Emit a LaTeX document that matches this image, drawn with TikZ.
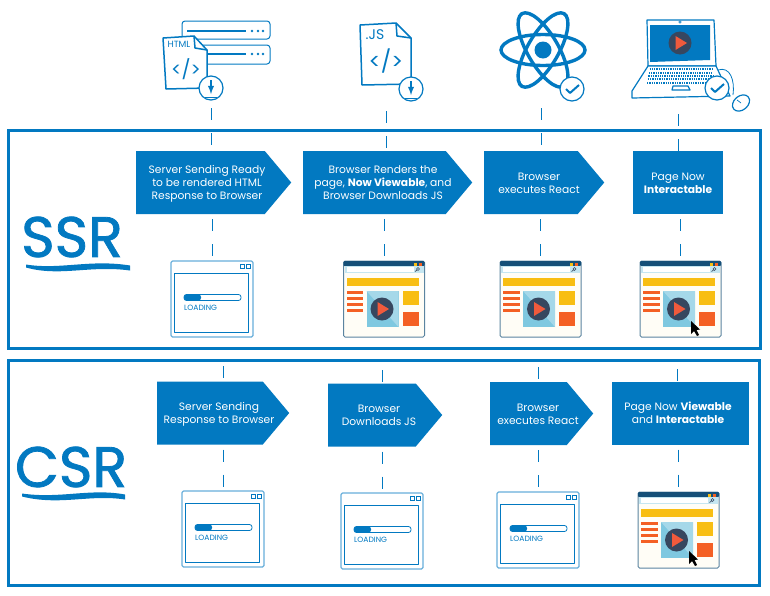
\documentclass[tikz,border=0pt]{standalone}
\usepackage{fontspec}
\setmainfont{Poppins}
\usetikzlibrary{positioning}
\usetikzlibrary{calc}
\usetikzlibrary{shapes,shapes.symbols,shapes.geometric}
\definecolor{mainblue}{HTML}{0279C1}
\definecolor{darkslate}{HTML}{37475F}
\definecolor{headblue}{HTML}{154F78}
\definecolor{redplay}{HTML}{F15A3C}
\definecolor{barorange}{HTML}{F46024}
\definecolor{baryellow}{HTML}{F8BE12}
\definecolor{panelblue}{HTML}{7FC8E0}
\definecolor{cream}{HTML}{FFFDF6}
% text of a step, moved sideways inside its box
\newcommand{\steptext}[2]{\makebox[0pt]{\hspace*{#1pt}\raisebox{-4.5pt}[0pt][0pt]{\begin{tabular}{@{}c@{}}#2\end{tabular}}}}
\tikzstyle{step arrow} = [signal, signal to=east, signal pointer angle=100, fill=mainblue, text=white, inner sep=0pt, minimum height=63pt, font=\fontsize{10.7}{13}\selectfont]
\tikzstyle{step rect} = [rectangle, fill=mainblue, text=white, inner sep=0pt, minimum height=63pt, font=\fontsize{10.7}{13}\selectfont]
\tikzstyle{frame} = [draw=mainblue, line width=3pt]
\tikzstyle{tick} = [draw=mainblue, line width=1pt, dash pattern=on 12pt off 13pt]
\tikzstyle{title} = [text=mainblue, inner sep=0pt, font=\fontsize{57}{57}\selectfont\addfontfeature{FakeBold=1.4}]
\tikzstyle{ink} = [draw=mainblue, line width=1.2pt, line join=round]
\tikzstyle{inktext} = [text=mainblue, inner sep=0pt]
\tikzset{
  badge/.pic={
    \draw[ink, fill=white] (0,0) circle (12);
    \coordinate (-foot) at (0,12);
  },
  playdisc/.pic={
    \fill[darkslate] (0,0) circle (11.5);
    \fill[redplay] (-4.5,-7) -- (7,0) -- (-4.5,7) -- cycle;
  },
  loadwin/.pic={
    % window drawn from its top left corner
    \draw[ink, rounded corners=1.5pt, opacity=.6] (0,0) rectangle (82,76);
    \draw[ink, line width=1pt] (3.5,12) rectangle (77,71);
    \draw[mainblue, line width=.7pt] (69,3) rectangle (73,7) (75,3) rectangle (79,7);
    \draw[mainblue, line width=.8pt, rounded corners=2.5pt] (13,33.5) rectangle (70,39.5);
    \fill[mainblue, rounded corners=2.5pt] (13,33.5) rectangle (30,39.5);
    \node[inktext, anchor=west, font=\fontsize{7.6}{8}\selectfont] (-text) at (13,46.5) {LOADING};
    \coordinate (-top) at (41,0);
  },
  pagewin/.pic={
    \draw[draw=headblue!70, line width=1pt, fill=cream, rounded corners=1.5pt] (0,0) rectangle (81,76);
    \fill[headblue, rounded corners=1pt] (0,0) rectangle (81,5);
    \fill[baryellow] (70,2) rectangle (73,4.5);
    \fill[barorange] (75,2) rectangle (78,4.5);
    \fill[panelblue!45] (1,5) rectangle (80,12);
    \fill[white] (3,6) rectangle (70,11);
    \draw[darkslate, line width=.6pt] (74.5,8) circle (1.5) (73.3,9.2) -- (71.5,10.5);
    \fill[baryellow] (3,17) rectangle (75,25);
    \foreach \ybar in {30,36,42,48}
      \fill[barorange] (3,\ybar) rectangle (19.5,\ybar+2.5);
    \fill[panelblue] (23,30) rectangle (55,66);
    \fill[panelblue!70!white] (23,30) -- (55,30) -- (55,66) -- cycle;
    \fill[baryellow] (59,30) rectangle (75,44);
    \fill[barorange] (59,51) rectangle (75,65);
    \pic at (38.5,48) {playdisc};
    \coordinate (-top) at (40.5,0);
  },
  mousecursor/.pic={
    \fill[black] (0,0) -- (0,13) -- (3,10) -- (6,15) -- (8,14) -- (5.5,9) -- (9,8.5) -- cycle;
  },
}

\begin{document}
\begin{tikzpicture}[x=1pt, y=-1pt]
\useasboundingbox (0,0) rectangle (770,595);

% top icons
\coordinate (iconhtml) at (211,108);
\coordinate (iconjs) at (386,111);
\coordinate (iconreact) at (541,108);
\coordinate (iconlaptop) at (678,114);

% server and HTML file
\draw[ink, line width=1pt, rounded corners=3pt] (182,21) rectangle (270,39);
\draw[ink, line width=1pt, rounded corners=3pt] (182,45) rectangle (270,64);
\draw[ink] (187,31) -- (246,31) (195,54) -- (246,54);
\foreach \ydot in {31,54}
  \fill[mainblue] (252,\ydot) circle (1.4) (258,\ydot) circle (1.4) (263,\ydot) circle (1.4);
\draw[ink, line width=1.5pt, fill=white] (163,38) -- (194,36) -- (207,50) -- (207,88) -- (166,89) -- cycle;
\draw[ink, line width=1.5pt] (194,36) -- (195,48) -- (207,50);
\node[inktext, font=\fontsize{9}{9}\selectfont] (htmllabel) at (179,44.5) {HTML};
\node[inktext, font=\fontsize{19}{19}\selectfont] (htmlcode) at (186,69) {</>};
\pic (htmlbadge) at (211,88) {badge};
\draw[mainblue, line width=1.8pt, ->, >=latex] (211,80) -- (211,94);
\draw[mainblue, line width=.6pt] (205,97) -- (217,97);

% JS file
\draw[ink, line width=1.5pt, fill=white] (360,25) -- (396,23) -- (411,38) -- (411,84) -- (362,85) -- cycle;
\draw[ink, line width=1.5pt] (396,23) -- (397,36) -- (411,38);
\node[inktext, font=\fontsize{14}{14}\selectfont] (jslabel) at (375,34.5) {.JS};
\node[inktext, font=\fontsize{22}{22}\selectfont] (jscode) at (386,61) {</>};
\pic (jsbadge) at (411,89) {badge};
\draw[mainblue, line width=1.8pt, ->, >=latex] (411,81) -- (411,95);
\draw[mainblue, line width=.6pt] (405,98) -- (417,98);

% react atom
\foreach \angle in {0,60,120}
  \draw[mainblue, line width=3.4pt, rotate around={\angle:(543,50)}] (543,50) ellipse (42 and 15.5);
\fill[mainblue] (543,50) circle (8.5);
\pic (reactbadge) at (572,89) {badge};
\draw[mainblue, line width=2pt, line join=round] (566,89) -- (570,93) -- (579,85);

% laptop
\draw[ink, fill=white] (647,20) -- (714,20) -- (716,66) -- (648,66) -- cycle;
\fill[mainblue] (650,25) -- (710,25) -- (710,60) -- (650,62) -- cycle;
\pic at (680,43) {playdisc};
\fill[white, draw=mainblue, line width=.6pt] (680,22) circle (1.2);
\draw[ink, fill=white] (648,66) -- (716,66) -- (730,96) -- (632,98) -- (632,91) -- cycle;
\foreach \ykey in {69,73,76,79,83}
  \draw[mainblue, line width=1.3pt, densely dotted] (650-\ykey/6+11,\ykey) -- (712+\ykey/6-11,\ykey);
\draw[ink] (673,86) -- (688,86) -- (690,90) -- (672,90) -- cycle;
\draw[ink, line width=.8pt] (718,70) .. controls (730,66) and (735,80) .. (733,95);
\draw[ink, fill=white, rotate around={40:(741,103)}] (741,103) ellipse (9.5 and 7);
\draw[ink, line width=.7pt] (737,100) -- (741,103);
\pic (laptopbadge) at (717,88) {badge};
\draw[mainblue, line width=2pt, line join=round] (711,88) -- (715,92) -- (724,84);

% frames
\draw[frame] (8.5,130.5) rectangle (760,348);
\draw[frame] (8.5,360.5) rectangle (759.5,585);

% SSR row
\node[title] (ssrtitle) at (72,237) {SSR};
\fill[mainblue] (26,264.5) .. controls (60,270) and (90,259) .. (130,265.5) -- (130,270.5) .. controls (90,265) and (60,277) .. (26,267.5) -- cycle;
\node[step arrow, minimum width=155pt] (serverhtml) at (200.5,182.5) {\steptext{13}{Server Sending Ready\\to be rendered HTML\\Response to Browser}};
\node[step arrow, minimum width=169pt] (browserrender) at (374.5,182.5) {\steptext{17}{Browser Renders the\\page, \textbf{Now Viewable}, and\\Browser Downloads JS}};
\node[step arrow, minimum width=120pt] (ssrexec) at (531,182.5) {\steptext{16}{Browser\\executes React}};
\node[step rect, minimum width=90pt] (ssrready) at (678,182.5) {\steptext{0}{Page Now\\\textbf{Interactable}}};

\pic (ssrwinload) at (171,261) {loadwin};
\pic (ssrwinview) at (343.5,261) {pagewin};
\pic (ssrwinexec) at (500,261) {pagewin};
\pic (ssrwinready) at (640,261) {pagewin};
\pic at (691,321) {mousecursor};

\draw[tick] (iconhtml) -- (iconhtml |- serverhtml.north);
\draw[tick] (iconjs) -- (iconjs |- browserrender.north);
\draw[tick] (iconreact) -- (iconreact |- ssrexec.north);
\draw[tick] (iconlaptop) -- (iconlaptop |- ssrready.north);
\draw[tick, shorten <=5pt] (serverhtml.south -| ssrwinload-top) -- (ssrwinload-top);
\draw[tick, shorten <=5pt] (browserrender.south -| ssrwinview-top) -- (ssrwinview-top);
\draw[tick, shorten <=5pt] (ssrexec.south -| ssrwinexec-top) -- (ssrwinexec-top);
\draw[tick, shorten <=5pt] (ssrready.south -| ssrwinready-top) -- (ssrwinready-top);

% CSR row
\node[title] (csrtitle) at (71,467) {CSR};
\fill[mainblue] (22,493.5) .. controls (60,499) and (90,488) .. (125,494.5) -- (125,499.5) .. controls (90,494) and (60,506) .. (22,496.5) -- cycle;
\node[step arrow, minimum width=132pt] (serversend) at (210,413) {\steptext{18}{Server Sending\\Response to Browser}};
\node[step arrow, minimum width=114pt] (browserjs) at (372,415) {\steptext{14}{Browser\\Downloads JS}};
\node[step arrow, minimum width=103pt] (csrexec) at (528.5,413.5) {\steptext{19}{Browser\\executes React}};
\node[step rect, minimum width=137pt] (csrready) at (680.5,413) {\steptext{-5}{Page Now \textbf{Viewable}\\and \textbf{Interactable}}};

\coordinate (csrtopa) at (223,366);
\coordinate (csrtopb) at (382,370);
\coordinate (csrtopc) at (538,367);
\coordinate (csrtopd) at (677,369);
\pic (csrwinsend) at (182,491) {loadwin};
\pic (csrwinjs) at (341,493) {loadwin};
\pic (csrwinexec) at (497,492) {loadwin};
\pic (csrwinready) at (638,492) {pagewin};
\pic at (689,551) {mousecursor};

\draw[tick] (csrtopa) -- (csrtopa |- serversend.north);
\draw[tick] (csrtopb) -- (csrtopb |- browserjs.north);
\draw[tick] (csrtopc) -- (csrtopc |- csrexec.north);
\draw[tick] (csrtopd) -- (csrtopd |- csrready.north);
\draw[tick, shorten <=5pt] (serversend.south -| csrwinsend-top) -- (csrwinsend-top);
\draw[tick, shorten <=5pt] (browserjs.south -| csrwinjs-top) -- (csrwinjs-top);
\draw[tick, shorten <=5pt] (csrexec.south -| csrwinexec-top) -- (csrwinexec-top);
\draw[tick, shorten <=5pt] (csrready.south -| csrwinready-top) -- (csrwinready-top);
\end{tikzpicture}
\end{document}
